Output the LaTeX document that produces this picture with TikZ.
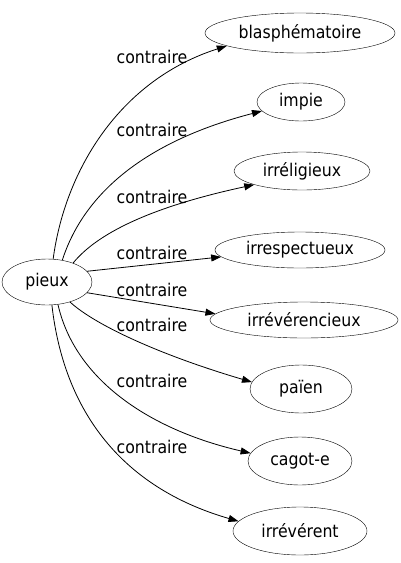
\documentclass[tikz,border=0pt]{standalone}
\usepackage{fontspec}
\setmainfont{DejaVu Sans Condensed}
\usetikzlibrary{arrows.meta,shapes.geometric}
\begin{document}
\begin{tikzpicture}[x=1pt,y=-1pt,
  word/.style={draw,ellipse,inner sep=0pt,font=\fontsize{17.5}{19}\selectfont},
  lab/.style={font=\fontsize{17.5}{19}\selectfont,inner sep=0pt},
  link/.style={-{Triangle[length=10pt,width=7pt]},line width=0.8pt}]
\useasboundingbox (0,0) rectangle (400,563);
\node[word,minimum width=90pt,minimum height=46pt] (p) at (47,282) {pieux};
\node[word,minimum width=190pt,minimum height=40pt] (a) at (300,33) {blasphématoire};
\node[word,minimum width=88pt,minimum height=38pt] (b) at (301,102) {impie};
\node[word,minimum width=136pt,minimum height=38pt] (c) at (302,171) {irréligieux};
\node[word,minimum width=170pt,minimum height=36pt] (d) at (300,250) {irrespectueux};
\node[word,minimum width=188pt,minimum height=36pt] (e) at (304,320) {irrévérencieux};
\node[word,minimum width=102pt,minimum height=48pt] (f) at (301,389) {païen};
\node[word,minimum width=104pt,minimum height=48pt] (g) at (300,461) {cagot-e};
\node[word,minimum width=134pt,minimum height=48pt] (h) at (300,531) {irrévérent};
\node[lab] (l1) at (152,57) {contraire};
\node[lab] (l2) at (152,130) {contraire};
\node[lab] (l3) at (152,197) {contraire};
\node[lab] (l4) at (152,253) {contraire};
\node[lab] (l5) at (152,290) {contraire};
\node[lab] (l6) at (152,325) {contraire};
\node[lab] (l7) at (152,381) {contraire};
\node[lab] (l8) at (152,447) {contraire};
\draw[link] (p.75) .. controls (65,170) and (120,80) .. (a.190);
\draw[link] (p.55) .. controls (85,190) and (150,140) .. (b.193);
\draw[link] (p.36) .. controls (100,230) and (160,205) .. (c.196);
\draw[link] (p.15) -- (d.185);
\draw[link] (p.-15) -- (e.176);
\draw[link] (p.-41) .. controls (95,325) and (160,355) .. (f.172);
\draw[link] (p.-64) .. controls (75,380) and (150,430) .. (g.171);
\draw[link] (p.-78) .. controls (65,420) and (130,490) .. (h.171);
\end{tikzpicture}
\end{document}
